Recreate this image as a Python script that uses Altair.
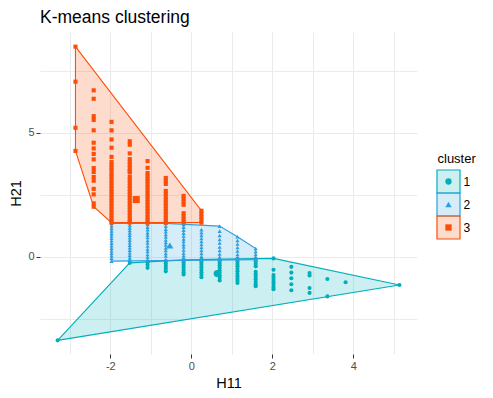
import altair as alt
import pandas as pd

CLUSTERS = ["1", "2", "3"]
COLORS = ["#00AFBB", "#2E9FDF", "#FC4E07"]
SHAPES = ["circle", "triangle-up", "square"]

# cluster 1 (teal circles): column x positions and the y values in each column
C1_X = [-3.30, -1.52, -1.08, -0.63, -0.19, 0.25, 0.70, 1.14, 1.59, 2.03, 2.47, 2.92, 3.36, 3.81, 5.14]
C1_Y = [
    [-3.36],
    [-0.24],
    [-0.21, -0.32, -0.44],
    [-0.17, -0.27, -0.37, -0.47, -0.58],
    [-0.12, -0.22, -0.32, -0.42, -0.52, -0.62, -0.71],
    [-0.12, -0.22, -0.32, -0.42, -0.52, -0.62, -0.72, -0.82],
    [-0.14, -0.24, -0.34, -0.44, -0.54, -0.64, -0.74, -0.84, -0.95],
    [-0.08, -0.18, -0.28, -0.38, -0.48, -0.58, -0.68, -0.78, -0.88, -0.96, -1.05],
    [-0.08, -0.18, -0.28, -0.38, -0.60, -0.70, -0.80, -0.90, -1.00, -1.10, -1.18],
    [-0.06, -0.52, -0.73, -0.83, -0.93, -1.03, -1.13, -1.23, -1.30],
    [-0.40, -0.63, -0.86, -1.10, -1.34],
    [-0.65, -0.75, -1.25, -1.45],
    [-0.89, -1.59],
    [-1.02],
    [-1.13],
]

# cluster 2 (blue triangles)
C2_X = [-1.97, -1.52, -1.08, -0.63, -0.19, 0.25, 0.70, 1.14, 1.59]
C2_Y = [
    [1.35, 1.25, 1.15, 1.05, 0.95, 0.85, 0.75, 0.65, 0.55, 0.45, 0.35, 0.25, 0.15, 0.05, -0.05, -0.17],
    [1.27, 1.17, 1.07, 0.97, 0.87, 0.77, 0.67, 0.57, 0.47, 0.37, 0.27, 0.17, 0.07, -0.03, -0.11],
    [1.31, 1.20, 1.10, 0.98, 0.88, 0.78, 0.66, 0.56, 0.44, 0.32, 0.22, 0.10, 0.00, -0.11],
    [1.35, 1.24, 1.12, 1.02, 0.90, 0.80, 0.68, 0.58, 0.48, 0.36, 0.26, 0.14, 0.04, -0.11],
    [1.31, 1.20, 1.08, 0.96, 0.84, 0.72, 0.62, 0.50, 0.40, 0.28, 0.16, 0.06, -0.04, -0.11],
    [1.10, 0.98, 0.86, 0.74, 0.62, 0.50, 0.38, 0.26, 0.14, 0.02, -0.11],
    [1.24, 1.04, 0.86, 0.70, 0.56, 0.40, 0.26, 0.12, 0.00, -0.11],
    [0.81, 0.66, 0.52, 0.38, 0.24, 0.10, -0.02, -0.11],
    [0.34, 0.22, 0.10, -0.02, -0.11],
]

# cluster 3 (orange squares)
C3_X = [-2.86, -2.41, -1.97, -1.52, -1.08, -0.63, -0.19, 0.25]
C3_Y = [
    [8.47, 7.06, 5.20, 4.27],
    [6.71, 6.37, 5.67, 5.52, 5.10, 4.60, 4.37, 4.15, 3.93, 3.58, 3.42, 3.22, 3.07, 2.74, 2.52, 2.16, 2.02],
    [5.44, 5.10, 4.73, 4.40, 4.03, 3.82, 3.70, 3.58, 3.48, 3.35, 3.23, 3.11, 2.99, 2.87, 2.75, 2.63,
     2.51, 2.39, 2.27, 2.15, 2.03, 1.91, 1.79, 1.67, 1.55, 1.43, 1.38],
    [4.66, 4.52, 4.17, 3.94, 3.82, 3.70, 3.58, 3.46, 3.40, 3.22, 3.10, 2.98, 2.86, 2.74, 2.62, 2.50,
     2.38, 2.26, 2.14, 2.02, 1.90, 1.78, 1.66, 1.54, 1.42, 1.38],
    [3.86, 3.59, 3.38, 3.26, 3.14, 3.05, 2.92, 2.80, 2.68, 2.56, 2.44, 2.32, 2.20, 2.08, 1.96, 1.84,
     1.72, 1.60, 1.48, 1.38],
    [3.18, 3.06, 2.94, 2.66, 2.54, 2.42, 2.30, 2.18, 2.06, 1.94, 1.82, 1.70, 1.58, 1.46, 1.38],
    [2.46, 2.34, 2.22, 2.10, 1.76, 1.64, 1.52, 1.40],
    [1.86, 1.74, 1.62, 1.50, 1.38],
]

# cluster centres
CENTER_X = [0.64, -0.53, -1.36]
CENTER_Y = [-0.67, 0.46, 2.31]

# ---------------------------------------------------------------- data tables
rows = []
for cl, xs, ys in zip(CLUSTERS, [C1_X, C2_X, C3_X], [C1_Y, C2_Y, C3_Y]):
    for x, col in zip(xs, ys):
        for y in col:
            rows.append({"x": x, "y": y, "cluster": cl})
pts = pd.DataFrame(rows)


def convex_hull(points):
    p = sorted(set(points))
    if len(p) <= 2:
        return p

    def cross(o, a, b):
        return (a[0] - o[0]) * (b[1] - o[1]) - (a[1] - o[1]) * (b[0] - o[0])

    lower = []
    for q in p:
        while len(lower) >= 2 and cross(lower[-2], lower[-1], q) <= 0:
            lower.pop()
        lower.append(q)
    upper = []
    for q in reversed(p):
        while len(upper) >= 2 and cross(upper[-2], upper[-1], q) <= 0:
            upper.pop()
        upper.append(q)
    return lower[:-1] + upper[:-1]


hrows = []
for cl in CLUSTERS:
    sub = pts[pts["cluster"] == cl]
    h = convex_hull(list(zip(sub["x"], sub["y"])))
    h = h + [h[0]]
    for i, (x, y) in enumerate(h):
        hrows.append({"x": x, "y": y, "cluster": cl, "o": i})
hull = pd.DataFrame(hrows)

cent = pd.DataFrame({"x": CENTER_X, "y": CENTER_Y, "cluster": CLUSTERS})

# ---------------------------------------------------------------- main panel
FONT = "Liberation Sans"
col_scale = alt.Scale(domain=CLUSTERS, range=COLORS)
shape_scale = alt.Scale(domain=CLUSTERS, range=SHAPES)

x_axis = alt.Axis(
    title="H11", values=[-3, -2, -1, 0, 1, 2, 3, 4, 5],
    labelExpr="datum.value % 2 === 0 ? replace(datum.label, '−', '-') : ''",
    tickColor={"condition": {"test": "datum.value % 2 === 0", "value": "#333333"}, "value": "rgba(0,0,0,0)"},
    tickSize=4, tickWidth=1, labelPadding=2, titlePadding=5,
    domain=False, grid=True, gridColor="#EBEBEB", gridWidth=1,
    labelColor="#4D4D4D", labelFontSize=11, titleFontSize=14.5,
    titleFontWeight="normal", titleColor="#000000", labelFont=FONT, titleFont=FONT,
)
y_axis = alt.Axis(
    title="H21", values=[-2.5, 0, 2.5, 5, 7.5],
    labelExpr="datum.value % 5 === 0 ? datum.label : ''",
    tickColor={"condition": {"test": "datum.value % 5 === 0", "value": "#333333"}, "value": "rgba(0,0,0,0)"},
    tickSize=4, tickWidth=1, labelPadding=2, titlePadding=4,
    domain=False, grid=True, gridColor="#EBEBEB", gridWidth=1,
    labelColor="#4D4D4D", labelFontSize=11, titleFontSize=14.5,
    titleFontWeight="normal", titleColor="#000000", labelFont=FONT, titleFont=FONT,
)
xs = alt.Scale(domain=[-3.736, 5.573], nice=False, zero=False)
ys = alt.Scale(domain=[-3.91, 9.06], nice=False, zero=False)

polys = alt.Chart(hull).mark_line(fillOpacity=0.2, strokeWidth=1.1, interpolate="linear").encode(
    x=alt.X("x:Q", scale=xs, axis=x_axis),
    y=alt.Y("y:Q", scale=ys, axis=y_axis),
    order="o:Q",
    detail="cluster:N",
    fill=alt.Fill("cluster:N", scale=col_scale, legend=None),
    stroke=alt.Stroke("cluster:N", scale=col_scale, legend=None),
)

dots = alt.Chart(pts).mark_point(filled=True, size=17, opacity=1, strokeWidth=0).encode(
    x=alt.X("x:Q", scale=xs),
    y=alt.Y("y:Q", scale=ys),
    color=alt.Color("cluster:N", scale=col_scale, legend=None),
    shape=alt.Shape("cluster:N", scale=shape_scale, legend=None),
)

centres = alt.Chart(cent).mark_point(filled=True, size=50, opacity=1, strokeWidth=0).encode(
    x=alt.X("x:Q", scale=xs),
    y=alt.Y("y:Q", scale=ys),
    color=alt.Color("cluster:N", scale=col_scale, legend=None),
    shape=alt.Shape("cluster:N", scale=shape_scale, legend=None),
)

main = alt.layer(polys, dots, centres).properties(
    width=377, height=322,
    title=alt.TitleParams("K-means clustering", anchor="start", frame="group", fontSize=17.5,
                          fontWeight="normal", font=FONT, color="#000000", offset=6),
)

# ---------------------------------------------------------------- legend panel
leg = pd.DataFrame({"cluster": CLUSTERS, "k": ["a", "a", "a"]})
leg_y = alt.Y(
    "cluster:N",
    scale=alt.Scale(domain=CLUSTERS, range=[138, 207], paddingInner=0, paddingOuter=0),
    axis=alt.Axis(orient="right", title="cluster", titleAngle=0, titleAlign="left",
                  titleBaseline="alphabetic", titleX=-23, titleY=130, ticks=False,
                  domain=False, grid=False, labelPadding=3, labelFontSize=12,
                  labelColor="#000000", titleFontSize=13, titleFontWeight="normal",
                  titleColor="#000000", labelFont=FONT, titleFont=FONT),
)
leg_x = alt.X("k:N", scale=alt.Scale(paddingInner=0, paddingOuter=0), axis=None)

leg_box = alt.Chart(leg).mark_rect(fillOpacity=0.2, strokeWidth=1.2).encode(
    x=leg_x, y=leg_y,
    fill=alt.Fill("cluster:N", scale=col_scale, legend=None),
    stroke=alt.Stroke("cluster:N", scale=col_scale, legend=None),
)
leg_sym = alt.Chart(leg).mark_point(filled=True, size=40, opacity=1, strokeWidth=0).encode(
    x=leg_x, y=leg_y,
    color=alt.Color("cluster:N", scale=col_scale, legend=None),
    shape=alt.Shape("cluster:N", scale=shape_scale, legend=None),
)
legend_panel = alt.layer(leg_box, leg_sym).properties(width=23, height=322)

chart = (
    alt.hconcat(main, legend_panel, spacing=19)
    .properties(padding={"left": 0, "top": 0, "right": 0, "bottom": 0})
    .configure(font=FONT, background="white")
    .configure_view(stroke="transparent", strokeWidth=0)
)

chart.save("out.html", embed_options={"renderer": "svg", "actions": False})
